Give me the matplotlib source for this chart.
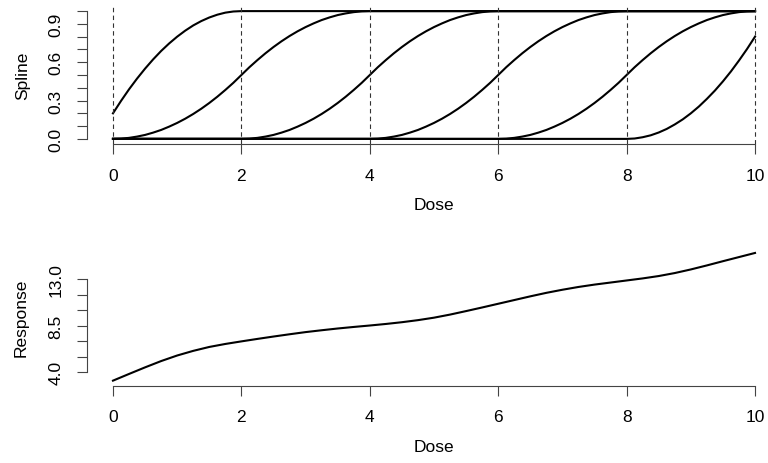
import matplotlib
matplotlib.use("Agg")
import matplotlib.pyplot as plt

plt.rcParams['font.family'] = ['Liberation Sans', 'DejaVu Sans']

# dose grid for the spline basis (step 0.125)
dose = [i * 0.125 for i in range(81)]

# readings of one rising S piece over four dose units (step 0.125)
s_rise = [0.0, 0.002, 0.008, 0.018, 0.031, 0.049, 0.07, 0.096, 0.125, 0.158,
          0.195, 0.236, 0.281, 0.33, 0.383, 0.439, 0.5, 0.561, 0.617, 0.67,
          0.719, 0.764, 0.805, 0.842, 0.875, 0.904, 0.93, 0.951, 0.969, 0.982,
          0.992, 0.998, 1.0]
# first basis: starts at 0.2 and reaches 1 at dose 2
s_first = [0.2, 0.297, 0.388, 0.472, 0.55, 0.622, 0.688, 0.747, 0.8, 0.847,
           0.888, 0.922, 0.95, 0.972, 0.988, 0.997, 1.0]
# last basis: starts at dose 8, reaches 0.8 at dose 10
s_last = [0.0, 0.003, 0.013, 0.028, 0.05, 0.078, 0.113, 0.153, 0.2, 0.253,
          0.313, 0.378, 0.45, 0.528, 0.613, 0.703, 0.8]

spline1 = s_first + [1.0] * 64
spline2 = s_rise + [1.0] * 48
spline3 = [0.0] * 16 + s_rise + [1.0] * 32
spline4 = [0.0] * 32 + s_rise + [1.0] * 16
spline5 = [0.0] * 48 + s_rise
spline6 = [0.0] * 64 + s_last
splines = [spline1, spline2, spline3, spline4, spline5, spline6]

knots = [0, 2, 4, 6, 8, 10]

# response curve (step 0.25)
dose_resp = [i * 0.25 for i in range(41)]
response = [3.18, 3.83, 4.47, 5.08, 5.62, 6.07, 6.45, 6.74, 6.99, 7.23,
            7.46, 7.68, 7.89, 8.07, 8.24, 8.39, 8.53, 8.68, 8.85, 9.05,
            9.29, 9.59, 9.93, 10.28, 10.64, 11.0, 11.36, 11.7, 12.0, 12.27,
            12.5, 12.7, 12.9, 13.1, 13.33, 13.62, 13.97, 14.36, 14.77, 15.17,
            15.57]

x_ticks = [0, 2, 4, 6, 8, 10]
spline_ticks = [i / 10 for i in range(11)]
spline_labels = ['0.0', '', '', '0.3', '', '', '0.6', '', '', '0.9', '']
resp_ticks = [4.0, 5.5, 7.0, 8.5, 10.0, 11.5, 13.0]
resp_labels = ['4.0', '', '', '8.5', '', '', '13.0']

W, H = 768, 464
fig = plt.figure(figsize=(W / 100, H / 100), dpi=100)

axis_col = '#444444'
fs = 12.5


def style(ax, ylo, yhi):
    for s in ['top', 'right']:
        ax.spines[s].set_visible(False)
    ax.spines['left'].set_bounds(ylo, yhi)
    ax.spines['bottom'].set_bounds(0, 10)
    for s in ['left', 'bottom']:
        ax.spines[s].set_color(axis_col)
        ax.spines[s].set_linewidth(0.8)
    ax.tick_params(direction='out', length=7, width=0.8, color=axis_col,
                   labelsize=fs, pad=10)
    ax.set_xticks(x_ticks)
    ax.set_xticklabels([str(t) for t in x_ticks])
    for lab in ax.get_yticklabels():
        lab.set_rotation(90)
        lab.set_va('center')


left = 87.3 / W
width = 693.4 / W

ax1 = fig.add_axes([left, (H - 145) / H, width, 138 / H])
for s in splines:
    ax1.plot(dose, s, color='black', lw=1.5)
for k in knots:
    ax1.axvline(k, color='#333333', lw=0.8, dashes=(4, 3))
ax1.set_xlim(-0.4, 10.4)
ax1.set_ylim(-0.04, 1.04)
ax1.set_yticks(spline_ticks)
ax1.set_yticklabels(spline_labels)
style(ax1, 0, 1)
ax1.text(0.5, -60 / 138, 'Dose', transform=ax1.transAxes, ha='center',
         va='center', fontsize=fs)
ax1.text(-65 / 693.4, 0.5, 'Spline', transform=ax1.transAxes, ha='center',
         va='center', rotation=90, fontsize=fs)

ax2 = fig.add_axes([left, (H - 386.8) / H, width, 138 / H])
ax2.plot(dose_resp, response, color='black', lw=1.5)
ax2.set_xlim(-0.4, 10.4)
ax2.set_ylim(2.68, 16.07)
ax2.set_yticks(resp_ticks)
ax2.set_yticklabels(resp_labels)
style(ax2, 4.0, 13.0)
ax2.text(0.5, -61 / 138, 'Dose', transform=ax2.transAxes, ha='center',
         va='center', fontsize=fs)
ax2.text(-66 / 693.4, 0.5, 'Response', transform=ax2.transAxes, ha='center',
         va='center', rotation=90, fontsize=fs)

fig.savefig('out.png', dpi=100)
